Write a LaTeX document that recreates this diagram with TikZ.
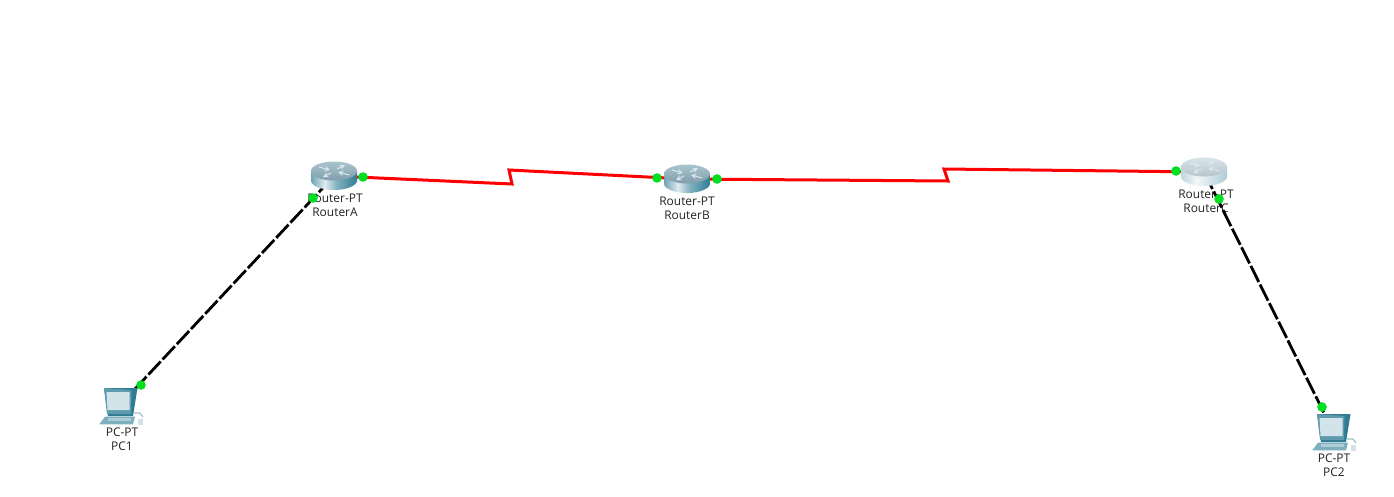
\documentclass[tikz,border=0pt]{standalone}
\usepackage{fontspec}
\setmainfont{Open Sans}
\usepackage{tikz}
\definecolor{portgreen}{HTML}{00E020}
\definecolor{routertop}{HTML}{8DB0BE}
\definecolor{routerfade}{HTML}{CBDBE2}
\definecolor{pcteal}{HTML}{5E9BAE}
\definecolor{pcdark}{HTML}{2F7C92}
\definecolor{pcscreen}{HTML}{D3E3EA}
\definecolor{labelink}{HTML}{222222}
\pgfdeclarehorizontalshading{routerbody}{100bp}{color(0bp)=(white!30!pcdark);color(25bp)=(white!30!pcdark);color(40bp)=(white!80!pcteal);color(52bp)=(white!25!pcteal);color(75bp)=(pcdark);color(100bp)=(pcdark)}
\pgfdeclarehorizontalshading{routerbodyfade}{100bp}{color(0bp)=(white!60!pcteal);color(25bp)=(white!60!pcteal);color(42bp)=(white!92!pcteal);color(75bp)=(white!50!pcteal);color(100bp)=(white!50!pcteal)}
% router icon: centre, top colour, body shading
\newcommand{\routericon}[3]{
\begin{scope}[shift={(#1)}]
\shade[shading=#3] (-23,-5) -- (-23,4.5) arc[start angle=180,end angle=0,x radius=23,y radius=9.5] -- (23,-5) -- cycle;
\shade[top color=#2!75!white,bottom color=#2!90!black] (0,-5) ellipse[x radius=23,y radius=9.5];
\draw[routerarrow,-stealth] (-15,-9) -- (-4,-6);
\draw[routerarrow,-stealth] (15,-1) -- (4,-4);
\draw[routerarrow,-stealth] (3,-7) -- (11,-11);
\draw[routerarrow,-stealth] (-3,-3) -- (-11,1);
\end{scope}
}
% pc icon: centre
\newcommand{\pcicon}[1]{
\begin{scope}[shift={(#1)}]
\fill[pcteal!80] (-20.7,19.3) -- (-15,11.7) -- (15,11.7) -- (13,19.3) -- cycle;
\fill[pcdark] (-12,11) -- (-16,-17) -- (17.5,-17) -- (13,11) -- cycle;
\fill[pcteal] (-16,-17) -- (11.5,-15) -- (11,9) -- (-13,9) -- cycle;
\fill[pcscreen] (-13.5,-13) -- (9.5,-13) -- (9.5,5) -- (-12.5,5) -- cycle;
\fill[pcteal!50] (-12,13) rectangle (11,15.5);
\draw[pcteal!60,line width=0.3mm] (14,8) -- (20,8) -- (23,12);
\fill[pcscreen] (18,14) rectangle (23,20);
\end{scope}
}
\tikzset{
  seriallink/.style={red,line width=0.75mm},
  etherlink/.style={black,line width=0.7mm,dash pattern=on 4.5mm off 0.7mm},
  portdot/.style={fill=portgreen,circle,inner sep=0pt,minimum size=2.4mm},
  devlabel/.style={align=center,font=\fontsize{8.5}{10}\selectfont,text=labelink,inner sep=0pt},
  routerarrow/.style={white!70!routertop,line width=0.25mm}
}
\begin{document}
\begin{tikzpicture}[x=0.25mm,y=-0.25mm]
\fill[white] (0,0) rectangle (1394,496);
\useasboundingbox (0,0) rectangle (1394,496);
% device labels
\node[devlabel] (labelA) at (335,205) {Router-PT\\RouterA};
\node[devlabel] (labelB) at (687,208) {Router-PT\\RouterB};
\node[devlabel] (labelC) at (1206,201) {Router-PT\\RouterC};
\node[devlabel] (labelPCa) at (122,439) {PC-PT\\PC1};
\node[devlabel] (labelPCb) at (1334,465) {PC-PT\\PC2};
% device centres
\coordinate (routerA) at (334,176);
\coordinate (routerB) at (687,179);
\coordinate (routerC) at (1204,172);
\coordinate (pcA) at (120,405);
\coordinate (pcB) at (1333,431);
\coordinate (zigA) at (512,184);
\coordinate (zigB) at (509,170);
\coordinate (zigC) at (948,181);
\coordinate (zigD) at (944,169);
% links
\draw[seriallink] (routerA) -- (zigA) -- (zigB) -- (routerB);
\draw[seriallink] (routerB) -- (zigC) -- (zigD) -- (routerC);
\draw[etherlink] (pcA) -- (routerA);
\draw[etherlink] (pcB) -- (routerC);
% icons
\routericon{routerA}{routertop}{routerbody}
\routericon{routerB}{routertop}{routerbody}
\routericon{routerC}{routerfade}{routerbodyfade}
\pcicon{pcA}
\pcicon{pcB}
% ports
\node[portdot] (portAa) at (141,385) {};
\node[portdot] (portAb) at (313,198) {};
\node[portdot] (portAc) at (363,177) {};
\node[portdot] (portBa) at (657,178) {};
\node[portdot] (portBb) at (717,179) {};
\node[portdot] (portCa) at (1176,171) {};
\node[portdot] (portCb) at (1219,199) {};
\node[portdot] (portCc) at (1322,407) {};
\end{tikzpicture}
\end{document}
